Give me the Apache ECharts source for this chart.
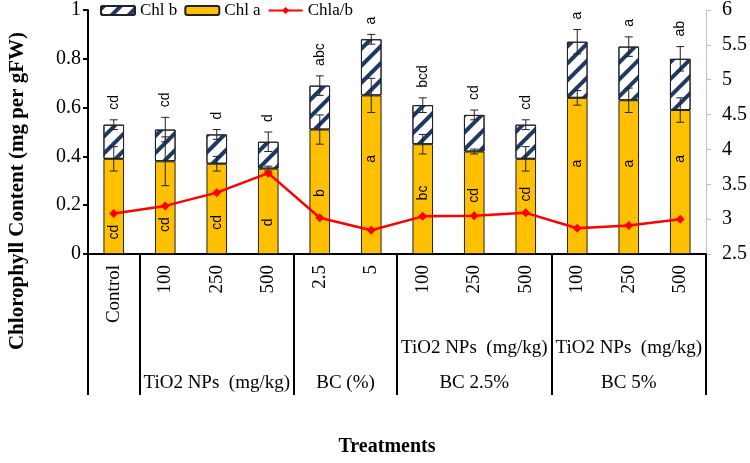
<!DOCTYPE html>
<html><head><meta charset="utf-8">
<script src="https://cdn.jsdelivr.net/npm/echarts@6/dist/echarts.min.js"></script>
<style>html,body{margin:0;padding:0;background:#fff}#c{width:750px;height:463px}</style>
</head><body><div id="c"></div>
<script>
// ---- data ----
const categories = ['Control','100','250','500','2.5','5','100','250','500','100','250','500'];
const chlA = [0.39,0.38,0.37,0.35,0.51,0.65,0.45,0.42,0.39,0.64,0.63,0.59];
const chlB = [0.14,0.13,0.12,0.11,0.18,0.23,0.16,0.15,0.14,0.23,0.22,0.21];
const chlAErr = [0.05,0.10,0.03,0.01,0.06,0.07,0.04,0.01,0.05,0.03,0.05,0.05];
const chlTotalErr = [0.02,0.05,0.02,0.04,0.04,0.02,0.03,0.02,0.02,0.05,0.04,0.05];
const ratioAB = [3.08,3.19,3.38,3.66,3.02,2.84,3.04,3.05,3.09,2.87,2.91,3.00];
const lettersA = ['cd','cd','cd','d','b','a','bc','cd','cd','a','a','a'];
const lettersB = ['cd','cd','d','d','abc','a','bcd','cd','cd','a','a','ab'];
const lettersALevel = [0.09,0.12,0.13,0.13,0.25,0.39,0.25,0.24,0.245,0.37,0.37,0.39];
const leftTicks = [0,0.2,0.4,0.6,0.8,1];
const rightTicks = [2.5,3,3.5,4,4.5,5,5.5,6];
const groupStarts = [0,1,4,6,9];
const groups = [
  {start:1,end:4,label:'\nTiO2 NPs  (mg/kg)'},
  {start:4,end:6,label:'\nBC (%)'},
  {start:6,end:9,label:'TiO2 NPs  (mg/kg)\nBC 2.5%'},
  {start:9,end:12,label:'TiO2 NPs  (mg/kg)\nBC 5%'}
];
// ---------------------------------------
const SERIF = "'Liberation Serif','Times New Roman',serif";
const SANS = "'Liberation Sans',Arial,sans-serif";
const chart = echarts.init(document.getElementById('c'), null, {renderer:'canvas'});
const groupLabelAt = {};
groups.forEach(g => { groupLabelAt[((g.start+g.end)/2).toFixed(2)] = g.label; });

const errA = chlA.map((v,i)=>[i, v-chlAErr[i], v+chlAErr[i]]);
const errT = chlA.map((v,i)=>{const t=v+chlB[i]; return [i, t-chlTotalErr[i], t+chlTotalErr[i]];});
const topLetters = chlA.map((v,i)=>[i, v+chlB[i]+chlTotalErr[i], lettersB[i]]);
const inLetters = chlA.map((v,i)=>[i, lettersALevel[i], lettersA[i]]);

function errRender(params, api){
  const x = api.value(0);
  const lo = api.coord([x, api.value(1)]);
  const hi = api.coord([x, api.value(2)]);
  const c = 4;
  return {type:'group', children:[
    {type:'line', shape:{x1:lo[0],y1:lo[1],x2:hi[0],y2:hi[1]}, style:{stroke:'#222',lineWidth:1}},
    {type:'line', shape:{x1:lo[0]-c,y1:lo[1],x2:lo[0]+c,y2:lo[1]}, style:{stroke:'#222',lineWidth:1}},
    {type:'line', shape:{x1:hi[0]-c,y1:hi[1],x2:hi[0]+c,y2:hi[1]}, style:{stroke:'#222',lineWidth:1}}
  ]};
}
function letterRender(offset, align){
  return function(params, api){
    const p = api.coord([api.value(0), api.value(1)]);
    return {type:'text', x:p[0], y:p[1]-offset, rotation:Math.PI/2,
      style:{text: String(api.value(2)), font:'14px '+SANS, fill:'#000', align:align, verticalAlign:'middle'}};
  };
}

const option = {
  animation:false,
  backgroundColor:'#fff',
  grid:{left:88, right:38, top:7, bottom:209, containLabel:false},
  legend:{
    data:['Chl b','Chl a','Chla/b'], left:100, top:2, padding:0, itemGap:7,
    itemWidth:34, itemHeight:9,
    textStyle:{fontFamily:SERIF, fontSize:17, color:'#000'}
  },
  graphic:[{type:'text', x:18, y:191, rotation:Math.PI/2,
    style:{text:'Chlorophyll Content (mg per gFW)', font:'bold 21px '+SERIF, fill:'#000', align:'center', verticalAlign:'middle'}}],
  xAxis:[
    {type:'category', data:categories, boundaryGap:true,
     name:'Treatments', nameLocation:'middle', nameGap:183,
     nameTextStyle:{fontFamily:SERIF, fontSize:20, fontWeight:'bold', color:'#000', padding:[0,20,0,0]},
     axisLine:{lineStyle:{color:'#000', width:2}},
     axisTick:{show:true, length:141, lineStyle:{color:'#000', width:2},
       interval:function(idx){ return groupStarts.indexOf(idx) >= 0; }},
     axisLabel:{interval:0, rotate:90, margin:11, fontFamily:SERIF, fontSize:19, color:'#000'}
    },
    {type:'value', min:0, max:12, interval:0.5, position:'bottom',
     axisLine:{show:false}, axisTick:{show:false}, splitLine:{show:false},
     axisLabel:{margin:77, lineHeight:35, fontFamily:SERIF, fontSize:19, color:'#000', hideOverlap:false,
       showMinLabel:true, showMaxLabel:true,
       formatter:function(v){ return groupLabelAt[v.toFixed(2)] || ''; }}
    }
  ],
  yAxis:[
    {type:'value', min:leftTicks[0], max:leftTicks[leftTicks.length-1], interval:leftTicks[1]-leftTicks[0],
     axisLine:{show:true, lineStyle:{color:'#000', width:2}},
     axisTick:{show:true, length:5, lineStyle:{color:'#000', width:2}},
     splitLine:{show:false},
     axisLabel:{margin:7, fontFamily:SERIF, fontSize:20, color:'#000'}
    },
    {type:'value', min:rightTicks[0], max:rightTicks[rightTicks.length-1], interval:rightTicks[1]-rightTicks[0],
     position:'right',
     axisLine:{show:true, lineStyle:{color:'#bfbfbf', width:1}},
     axisTick:{show:true, length:5, lineStyle:{color:'#bfbfbf', width:1}},
     splitLine:{show:false},
     axisLabel:{margin:16, fontFamily:SERIF, fontSize:20, color:'#000'}
    }
  ],
  series:[
    {name:'Chl a', type:'bar', stack:'chl', data:chlA, barWidth:'40%',
     itemStyle:{color:'#FFC000', borderColor:'#222', borderWidth:1}},
    {name:'Chl b', type:'bar', stack:'chl', data:chlB, barWidth:'40%',
     itemStyle:{color:'#ffffff', borderColor:'#222', borderWidth:1,
       decal:{symbol:'rect', symbolSize:1, color:'#1F3864', dashArrayX:[1,0], dashArrayY:[3.5,7.5], rotation:-Math.PI/4}}},
    {name:'errA', type:'custom', renderItem:errRender, data:errA, encode:{x:0,y:[1,2]}, z:5, silent:true},
    {name:'errT', type:'custom', renderItem:errRender, data:errT, encode:{x:0,y:[1,2]}, z:5, silent:true},
    {name:'Chla/b', type:'line', yAxisIndex:1, data:ratioAB, symbol:'diamond', symbolSize:9,
     lineStyle:{color:'#FF0000', width:2.5}, itemStyle:{color:'#FF0000'}, z:6},
    {name:'topLetters', type:'custom', renderItem:letterRender(10,'left'), data:topLetters, encode:{x:0,y:1}, z:7, silent:true},
    {name:'inLetters', type:'custom', renderItem:letterRender(0,'center'), data:inLetters, encode:{x:0,y:1}, z:7, silent:true}
  ]
};
chart.setOption(option);
</script></body></html>
